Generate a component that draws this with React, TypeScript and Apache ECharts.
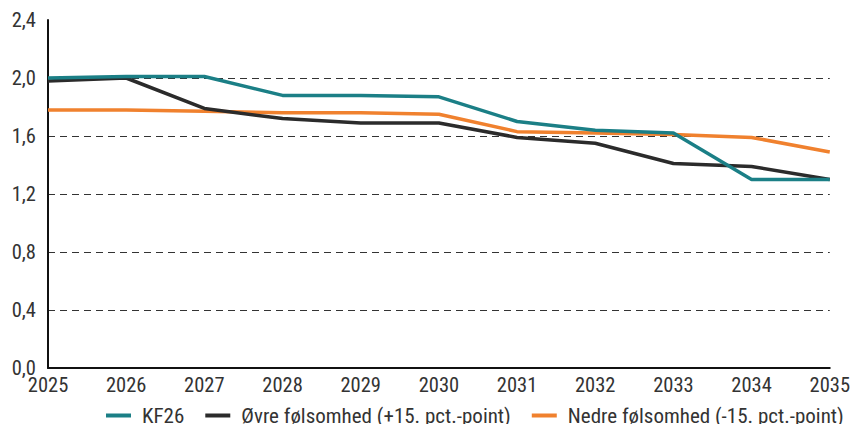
import React, { useEffect, useRef } from "react";
import * as echarts from "echarts";

const years = ["2025", "2026", "2027", "2028", "2029", "2030", "2031", "2032", "2033", "2034", "2035"];
const kf26 = [2.0, 2.01, 2.01, 1.88, 1.88, 1.87, 1.7, 1.64, 1.62, 1.3, 1.3];
const oevre = [1.98, 2.0, 1.79, 1.72, 1.69, 1.69, 1.59, 1.55, 1.41, 1.39, 1.3];
const nedre = [1.78, 1.78, 1.77, 1.76, 1.76, 1.75, 1.63, 1.62, 1.61, 1.59, 1.49];

const FONT = "'Roboto Condensed', 'DejaVu Sans Condensed', sans-serif";

export default function App() {
  const ref = useRef<HTMLDivElement>(null);
  useEffect(() => {
    if (!ref.current) return;
    const chart = echarts.init(ref.current, undefined, { renderer: "svg" });
    const line = (name: string, data: number[], color: string) => ({
      name,
      type: "line",
      data,
      symbol: "none",
      lineStyle: { color, width: 3.5 },
      itemStyle: { color },
    });
    chart.setOption({
      animation: false,
      textStyle: { fontFamily: FONT },
      grid: { left: 48, right: 21, top: 20, bottom: 56 },
      xAxis: {
        type: "category",
        data: years,
        boundaryGap: false,
        axisLine: { lineStyle: { color: "#111", width: 2 } },
        axisTick: { show: false },
        axisLabel: { color: "#333", fontSize: 20.5, fontFamily: FONT, margin: 6 },
      },
      yAxis: {
        type: "value",
        min: 0,
        max: 2.4,
        interval: 0.4,
        axisLine: { show: true, lineStyle: { color: "#111", width: 2 } },
        axisTick: { show: false },
        axisLabel: {
          color: "#333",
          fontSize: 20.5,
          fontFamily: FONT,
          margin: 12,
          formatter: (v: number) => v.toFixed(1).replace(".", ","),
        },
        splitLine: {
          show: true,
          lineStyle: {
            type: [7, 5],
            width: 1.2,
            color: ["rgba(0,0,0,0)", "#333", "#333", "#333", "#333", "#333", "rgba(0,0,0,0)"],
          },
        },
      },
      legend: {
        left: 106,
        top: 405,
        icon: "rect",
        itemWidth: 25,
        itemHeight: 4,
        itemGap: 21,
        padding: 0,
        textStyle: { color: "#333", fontSize: 21, fontFamily: FONT, padding: [0, 0, 0, 6] },
        data: ["KF26", "Øvre følsomhed (+15. pct.-point)", "Nedre følsomhed (-15. pct.-point)"],
      },
      series: [
        line("Nedre følsomhed (-15. pct.-point)", nedre, "#f0812e"),
        line("Øvre følsomhed (+15. pct.-point)", oevre, "#2b2b2b"),
        line("KF26", kf26, "#1b7f86"),
      ],
    });
    return () => chart.dispose();
  }, []);
  return (
    <div
      ref={ref}
      style={{ position: "fixed", left: 0, top: 0, width: 853, height: 424, background: "#fff" }}
    />
  );
}
